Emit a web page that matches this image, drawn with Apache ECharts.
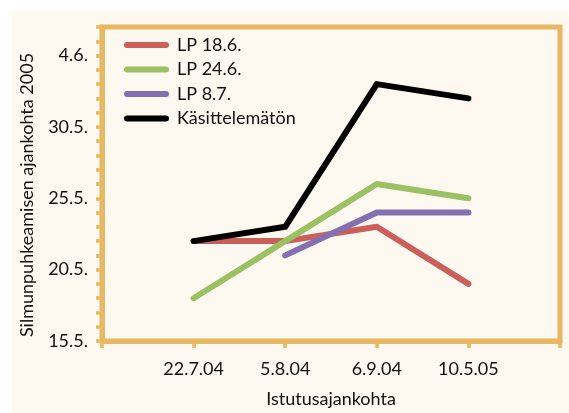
<!DOCTYPE html>
<html>
<head>
<meta charset="utf-8">
<script src="https://cdn.jsdelivr.net/npm/echarts@6/dist/echarts.min.js"></script>
<style>
html,body{margin:0;padding:0;background:#ffffff;}
#chart{width:569px;height:413px;}
</style>
</head>
<body>
<div id="chart"></div>
<script>
// Categories (empty end slots give the outer tick marks of the frame)
var categories = ['', '22.7.04', '5.8.04', '6.9.04', '10.5.05', ''];
// Values: day number counted from 1 May 2005 (e.g. 22 = 22.5., 33 = 2.6.)
var lp186 = [null, 22, 22, 23, 19, null];
var lp246 = [null, 18, 22, 26, 25, null];
var lp87 = [null, null, 21, 24, 24, null];
var kasittelematon = [null, 22, 23, 33, 32, null];
// Y tick labels
var yTickValues = [15, 20, 25, 30, 35];
var yTickLabels = ['15.5.', '20.5.', '25.5.', '30.5.', '4.6.'];
var seriesNames = ['LP 18.6.', 'LP 24.6.', 'LP 8.7.', 'Käsittelemätön'];
var seriesColors = ['#CB605B', '#9BC163', '#8470B1', '#000000'];

var font = 'Lato';
var frameColor = '#E8B862';
var chart = echarts.init(document.getElementById('chart'), null, {renderer: 'canvas'});
var dataSets = [lp186, lp246, lp87, kasittelematon];
var series = dataSets.map(function (d, i) {
  return {
    name: seriesNames[i],
    type: 'line',
    data: d,
    symbol: 'none',
    connectNulls: false,
    lineStyle: {width: 6, color: seriesColors[i], cap: 'round', join: 'round'},
    itemStyle: {color: seriesColors[i]},
    z: 3 + i
  };
});

chart.setOption({
  animation: false,
  graphic: [{
    type: 'rect', left: 12, top: 10, z: -10,
    shape: {width: 557, height: 403},
    style: {fill: '#FDF8F0'}
  }],
  grid: {
    left: 102, right: 9, top: 27, bottom: 71,
    show: true, borderColor: frameColor, borderWidth: 5,
    backgroundColor: 'transparent'
  },
  legend: {
    orient: 'vertical', left: 124, top: 36, padding: 0,
    itemWidth: 45, itemHeight: 6, itemGap: 6.5,
    icon: 'path://M3,0 L42,0 A3,3 0 0 1 42,6 L3,6 A3,3 0 0 1 3,0 Z',
    textStyle: {fontFamily: font, fontSize: 18, color: '#111', padding: [0, 0, 0, 3]},
    data: seriesNames
  },
  xAxis: {
    type: 'category',
    data: categories,
    boundaryGap: false,
    name: 'Istutusajankohta',
    nameLocation: 'middle',
    nameGap: 49,
    nameTextStyle: {fontFamily: font, fontSize: 18, color: '#111'},
    axisLine: {lineStyle: {color: frameColor, width: 5}},
    axisTick: {show: true, length: 7, lineStyle: {color: frameColor, width: 3.5}, interval: 0},
    axisLabel: {fontFamily: font, fontSize: 18, color: '#111', margin: 19, interval: 0},
    splitLine: {show: false}
  },
  yAxis: {
    type: 'value',
    min: 15, max: 37, interval: 1,
    name: 'Silmunpuhkeamisen ajankohta 2005',
    nameLocation: 'middle',
    nameGap: 66,
    nameTextStyle: {fontFamily: font, fontSize: 18, color: '#111', padding: [0, 22, 0, 0]},
    axisLine: {show: true, lineStyle: {color: frameColor, width: 5}},
    axisTick: {show: true, length: 6, lineStyle: {color: frameColor, width: 3.5}},
    axisLabel: {
      fontFamily: font, fontSize: 18, color: '#111', margin: 14,
      formatter: function (v) {
        var idx = yTickValues.indexOf(v);
        return idx >= 0 ? yTickLabels[idx] : '';
      }
    },
    splitLine: {show: false}
  },
  series: series
});
</script>
</body>
</html>
